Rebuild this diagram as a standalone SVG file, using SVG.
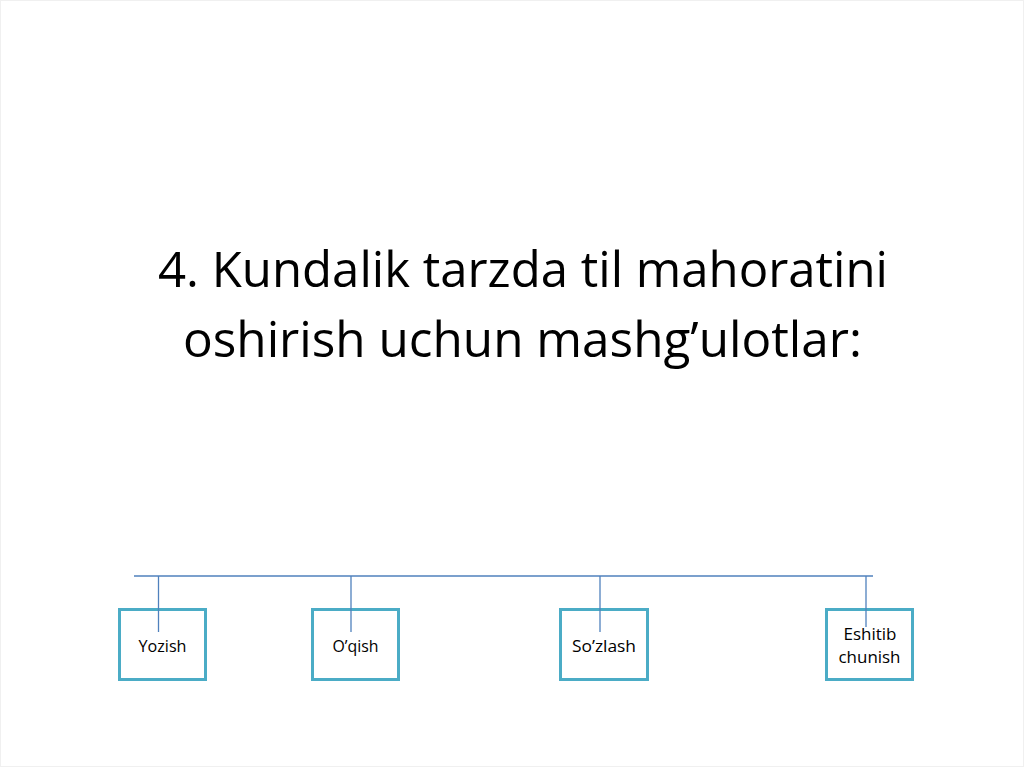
<svg xmlns="http://www.w3.org/2000/svg" width="1024" height="767" viewBox="0 0 1024 767">
<style>
.title{font-family:"Open Sans","Liberation Sans",sans-serif;font-size:50px;fill:#000;text-anchor:middle}
.box{fill:#fff;stroke:#4BACC6;stroke-width:3}
.lbl{font-family:"Open Sans","Liberation Sans",sans-serif;font-size:17px;fill:#000;text-anchor:middle}
.conn{stroke:#4F81BD;stroke-width:1.3;fill:none}
</style>
<rect x="0.5" y="0.5" width="1023" height="766" fill="#fff" stroke="#f0f0f0" stroke-width="1"/>
<g id="title">
<text class="title" x="523" y="287" textLength="730" lengthAdjust="spacingAndGlyphs">4. Kundalik tarzda til mahoratini</text>
<text class="title" x="522.5" y="357" textLength="679" lengthAdjust="spacingAndGlyphs">oshirish uchun mashg’ulotlar:</text>
</g>
<g id="node-yozish">
<rect class="box" x="119.5" y="609.5" width="86" height="70"/>
<text class="lbl" x="162.5" y="652" textLength="48" lengthAdjust="spacingAndGlyphs">Yozish</text>
</g>
<g id="node-oqish">
<rect class="box" x="312.5" y="609.5" width="86" height="70"/>
<text class="lbl" x="355.5" y="652" textLength="46" lengthAdjust="spacingAndGlyphs">O’qish</text>
</g>
<g id="node-sozlash">
<rect class="box" x="560.5" y="609.5" width="87" height="70"/>
<text class="lbl" x="604" y="652" textLength="64" lengthAdjust="spacingAndGlyphs">So’zlash</text>
</g>
<g id="node-eshitib">
<rect class="box" x="826.5" y="609.5" width="86" height="70"/>
<text class="lbl" x="870" y="640" textLength="53" lengthAdjust="spacingAndGlyphs">Eshitib</text>
<text class="lbl" x="869.5" y="663" textLength="62" lengthAdjust="spacingAndGlyphs">chunish</text>
</g>
<g id="connectors">
<line class="conn" x1="134" y1="576" x2="873" y2="576"/>
<line class="conn" x1="158.5" y1="576" x2="158.5" y2="632"/>
<line class="conn" x1="351" y1="576" x2="351" y2="632"/>
<line class="conn" x1="600" y1="576" x2="600" y2="632"/>
<line class="conn" x1="866" y1="576" x2="866" y2="627"/>
</g>
</svg>
